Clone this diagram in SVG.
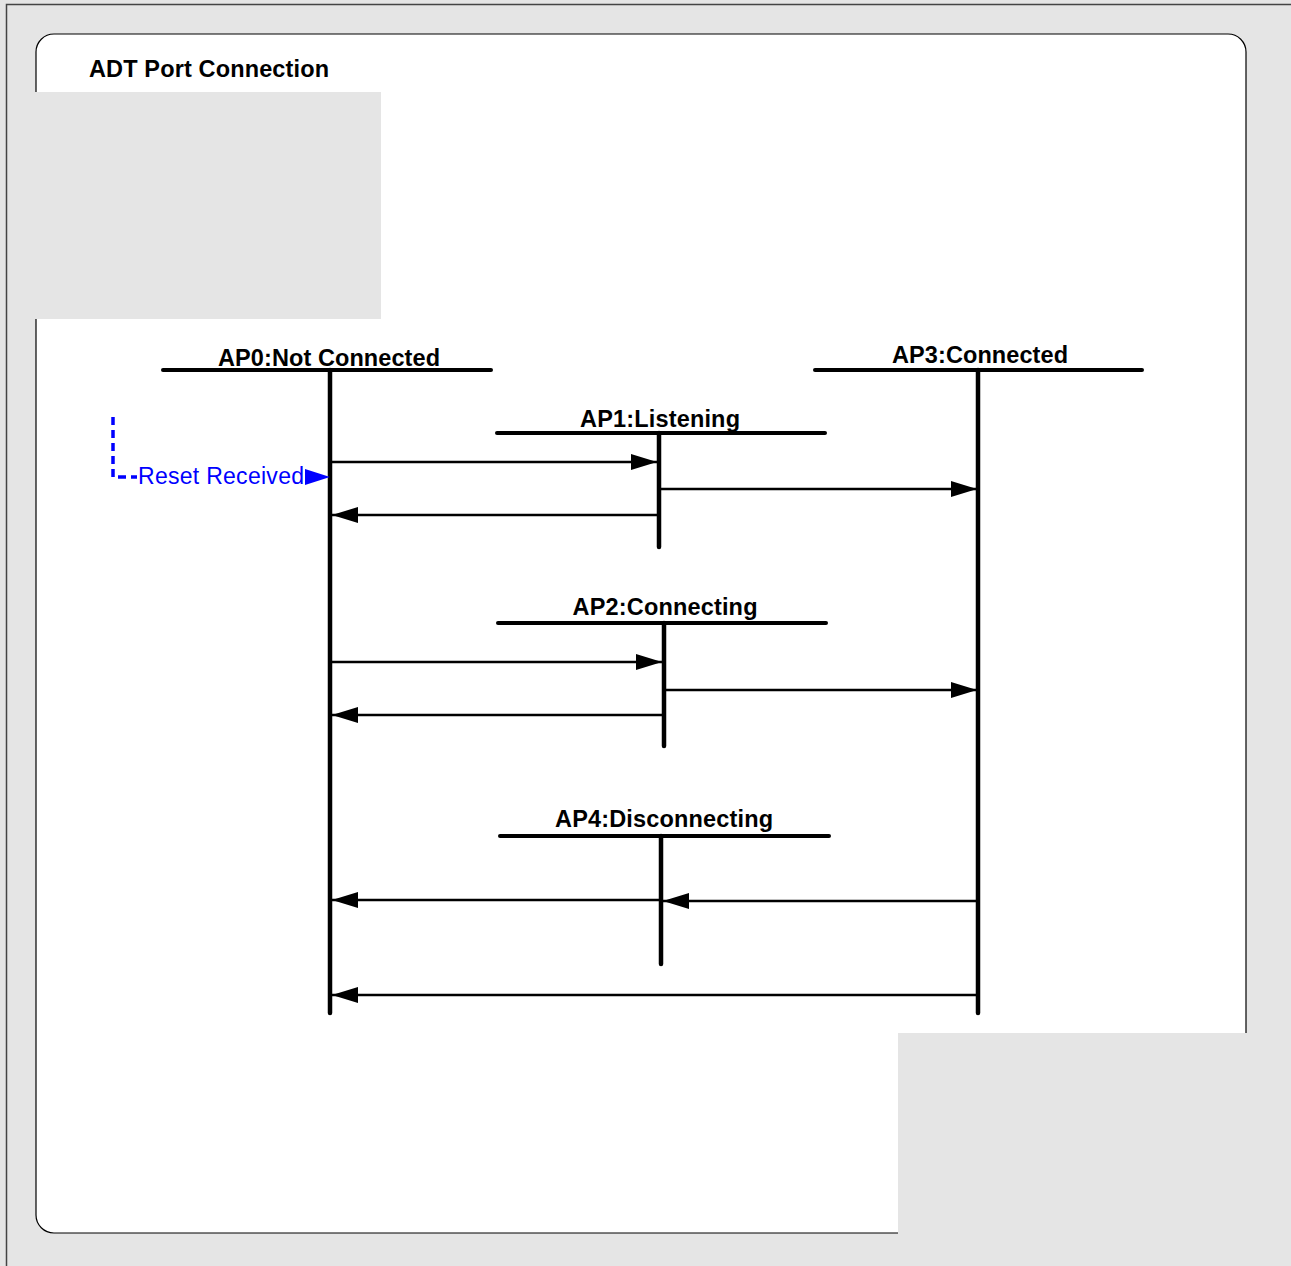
<svg xmlns="http://www.w3.org/2000/svg" width="1291" height="1266" viewBox="0 0 1291 1266">
<style>
.hdr{stroke:#000;stroke-width:4;stroke-linecap:round;fill:none}
.life{stroke:#000;stroke-width:4.5;stroke-linecap:round;fill:none}
.msg{stroke:#000;stroke-width:2.5;fill:none;marker-end:url(#ah)}
.lbl{font-family:"Liberation Sans",Arial,sans-serif;font-weight:bold;font-size:23.5px;fill:#000;text-anchor:middle}
.gray{fill:#e5e5e5}
</style>
<defs>
<marker id="ah" viewBox="0 0 26 16" refX="26" refY="8" markerWidth="26" markerHeight="16" markerUnits="userSpaceOnUse" orient="auto">
<path d="M0,0 L26,8 L0,16 z" fill="#000"/>
</marker>
</defs>
<rect x="0" y="0" width="1291" height="1266" class="gray"/>
<path d="M6.5,1266 V4.5 H1291" fill="none" stroke="#444" stroke-width="1.5"/>
<rect x="36" y="34" width="1210" height="1199" rx="18" ry="18" fill="#fff" stroke="#000" stroke-width="1.2"/>
<rect x="34" y="92" width="347" height="227" class="gray"/>
<rect x="898" y="1033" width="393" height="233" class="gray"/>
<text x="89" y="77" font-family="Liberation Sans,Arial,sans-serif" font-weight="bold" font-size="23.5" fill="#000" textLength="240">ADT Port Connection</text>

<g id="AP0">
<line class="hdr" x1="163" y1="370" x2="491" y2="370"/>
<line class="life" x1="330" y1="370" x2="330" y2="1013"/>
<text class="lbl" x="329" y="366" textLength="222">AP0:Not Connected</text>
</g>
<g id="AP3">
<line class="hdr" x1="815" y1="370" x2="1142" y2="370"/>
<line class="life" x1="978" y1="370" x2="978" y2="1013"/>
<text class="lbl" x="980" y="363" textLength="176">AP3:Connected</text>
</g>
<g id="AP1">
<line class="hdr" x1="497" y1="433" x2="825" y2="433"/>
<line class="life" x1="659" y1="433" x2="659" y2="547"/>
<text class="lbl" x="660" y="427" textLength="160">AP1:Listening</text>
</g>
<g id="AP2">
<line class="hdr" x1="498" y1="623" x2="826" y2="623"/>
<line class="life" x1="664" y1="623" x2="664" y2="746"/>
<text class="lbl" x="665" y="615" textLength="185">AP2:Connecting</text>
</g>
<g id="AP4">
<line class="hdr" x1="500" y1="836" x2="829" y2="836"/>
<line class="life" x1="661" y1="836" x2="661" y2="964"/>
<text class="lbl" x="664" y="827" textLength="218">AP4:Disconnecting</text>
</g>
<g id="reset">
<path d="M113,417 V477 H137" fill="none" stroke="#0000ff" stroke-width="3.5" stroke-dasharray="8,5"/>
<text x="138" y="484" font-family="Liberation Sans,Arial,sans-serif" font-size="23" fill="#0000ff" textLength="166">Reset Received</text>
<path d="M305,469 L330,477 L305,485 z" fill="#0000ff"/>
</g>
<g id="connectors">
<line class="msg" x1="332" y1="462" x2="657" y2="462"/>
<line class="msg" x1="661" y1="489" x2="977" y2="489"/>
<line class="msg" x1="658" y1="515" x2="332" y2="515"/>
<line class="msg" x1="332" y1="662" x2="662" y2="662"/>
<line class="msg" x1="666" y1="690" x2="977" y2="690"/>
<line class="msg" x1="663" y1="715" x2="332" y2="715"/>
<line class="msg" x1="660" y1="900" x2="332" y2="900"/>
<line class="msg" x1="977" y1="901" x2="663" y2="901"/>
<line class="msg" x1="977" y1="995" x2="332" y2="995"/>
</g>
</svg>
